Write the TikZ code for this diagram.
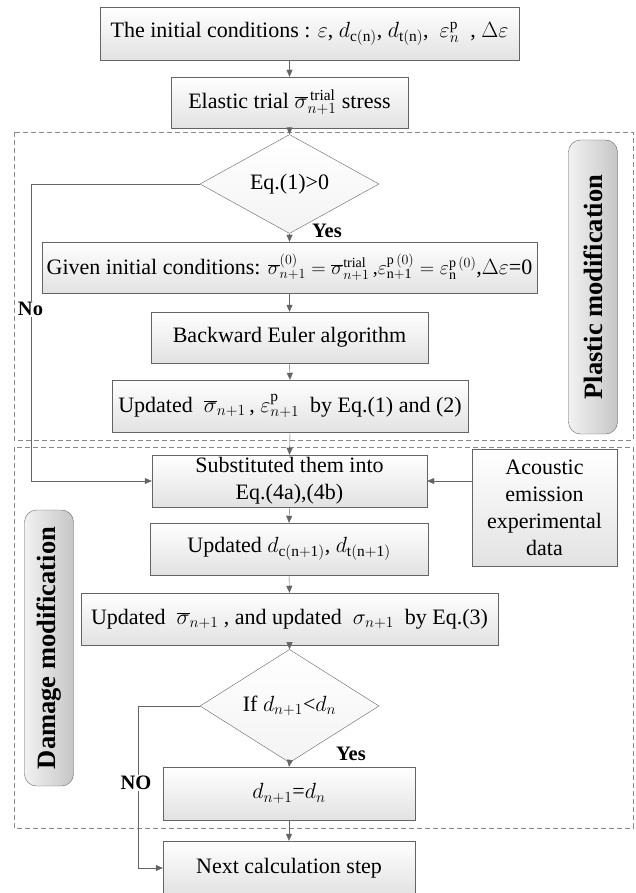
\documentclass[tikz,border=0pt]{standalone}
\usepackage{fix-cm}
\usepackage{fontspec}
\setmainfont{Liberation Serif}
\usetikzlibrary{shapes.geometric,arrows.meta}
\definecolor{linegray}{RGB}{100,100,100}
\definecolor{boxgray}{RGB}{226,226,226}
\definecolor{dashgray}{RGB}{135,135,135}
\newcommand{\smallmath}[1]{{\fontsize{20}{24}\selectfont #1}}
\begin{document}
\begin{tikzpicture}[x=1pt,y=-1pt,
  every node/.style={font=\fontsize{22}{27}\selectfont},
  box/.style={draw=linegray,top color=white,bottom color=boxgray,align=center,inner sep=0pt,minimum height=51pt},
  decision/.style={diamond,draw=linegray,top color=white,bottom color=boxgray!40,inner sep=0pt,minimum width=179pt,minimum height=82pt},
  sidelabel/.style={draw=linegray,rounded corners=12pt,left color=gray!10,right color=gray!45,rotate=90,minimum height=49pt,inner sep=0pt,font=\fontsize{26.5}{30}\selectfont\bfseries},
  tag/.style={fill=white,inner sep=1pt,font=\fontsize{20.5}{24}\selectfont\bfseries},
  flow/.style={draw=linegray,-{Triangle[length=7pt,width=6pt]}},
  frame/.style={draw=dashgray,dash pattern=on 5pt off 3pt}]
\useasboundingbox (0,0) rectangle (635,893);
% dashed regions
\draw[frame] (14,132) rectangle (633,440);
\draw[frame] (14,447) rectangle (633,828);
\node[sidelabel,minimum width=294pt] (plastic) at (593,287) {Plastic modification};
\node[sidelabel,minimum width=276pt] (damage) at (49,648) {Damage modification};
% plastic part
\node[box,minimum width=419pt,minimum height=53pt] (init) at (309.5,33.5) {The initial conditions : $\varepsilon$, $d_{\mathrm{c(n)}}$, $d_{\mathrm{t(n)}}$, \ $\varepsilon_n^{\mathrm{p}}$ \ , $\Delta\varepsilon$};
\node[box,minimum width=237pt] (elastic) at (289.5,102.5) {Elastic trial $\overline{\sigma}_{n+1}^{\,\mathrm{trial}}$ stress};
\node[decision] (check) at (289.5,184) {Eq.(1)>0};
\node[box,minimum width=495pt] (given) at (289.5,267.5) {Given initial conditions: \smallmath{$\overline{\sigma}_{n+1}^{(0)}=\overline{\sigma}_{n+1}^{\mathrm{trial}}$\,,$\varepsilon_{\mathrm{n+1}}^{\mathrm{p}\,(0)}=\varepsilon_{\mathrm{n}}^{\mathrm{p}\,(0)}$},$\Delta\varepsilon$=0};
\node[box,minimum width=277pt] (euler) at (289.5,337.5) {Backward Euler algorithm};
\node[box,minimum width=356pt,minimum height=52pt] (plupdate) at (290,406) {Updated \ $\overline{\sigma}_{n+1}$\,, $\varepsilon_{n+1}^{\mathrm{p}}$ \ by Eq.(1) and (2)};
% damage part
\node[box,minimum width=275pt,minimum height=52pt] (subst) at (289.5,481) {Substituted them into\\Eq.(4a),(4b)};
\node[box,minimum width=145pt,minimum height=117pt] (acoustic) at (544.5,507.5) {Acoustic\\emission\\experimental\\data};
\node[box,minimum width=278pt,minimum height=52pt] (dupdate) at (289,549) {Updated $d_{\mathrm{c(n+1)}}$, $d_{\mathrm{t(n+1)}}$};
\node[box,minimum width=417pt,minimum height=52pt] (supdate) at (289.5,619) {Updated \ $\overline{\sigma}_{n+1}$ , and updated \ $\sigma_{n+1}$ \ by Eq.(3)};
\node[decision] (dcheck) at (289.5,706) {If $d_{n+1}$<$d_n$};
\node[box,minimum width=252pt,minimum height=53pt] (dkeep) at (289,793.5) {$d_{n+1}$=$d_n$};
\node[box,minimum width=252pt,minimum height=54pt] (next) at (289,868) {Next calculation step};
% connectors
\draw[flow] (elastic.north |- init.south) -- (elastic.north);
\draw[flow] (elastic.south) -- (check.north);
\draw[flow] (check.south) -- (given.north);
\draw[flow] (given.south) -- (euler.north);
\draw[flow] (euler.south) -- (plupdate.north);
\draw[flow] (plupdate.south) -- (subst.north);
\draw[flow] (acoustic.west |- subst.east) -- (subst.east);
\draw[flow] (subst.south) -- (dupdate.north);
\draw[flow] (dupdate.south) -- (supdate.north);
\draw[flow] (supdate.south) -- (dcheck.north);
\draw[flow] (dcheck.south) -- (dkeep.north);
\draw[flow] (dkeep.south) -- (next.north);
\coordinate (nobend) at (31,184);
\coordinate (NObend) at (138,706);
\draw[flow] (check.west) -- (nobend) |- (subst.west);
\draw[flow] (dcheck.west) -- (NObend) |- (next.west);
% branch labels
\node[tag] (yes1) at (327,231) {Yes};
\node[tag] (no1) at (30.5,309) {No};
\node[tag] (yes2) at (351,754) {Yes};
\node[tag] (no2) at (136,783) {NO};
\end{tikzpicture}
\end{document}
